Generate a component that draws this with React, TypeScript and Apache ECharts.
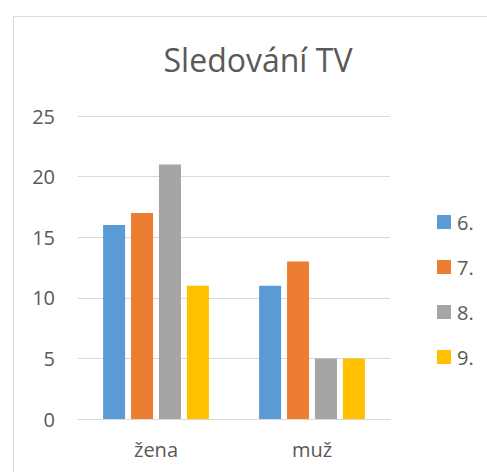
import React, { useEffect, useRef } from "react";
import * as echarts from "echarts";

const categories = ["žena", "muž"];
const seriesNames = ["6.", "7.", "8.", "9."];
const values6 = [16, 11];
const values7 = [17, 13];
const values8 = [21, 5];
const values9 = [11, 5];
const colors = ["#5b9bd5", "#ed7d31", "#a5a5a5", "#ffc000"];
const yTicks = [0, 5, 10, 15, 20, 25];

export default function App() {
  const ref = useRef<HTMLDivElement>(null);
  useEffect(() => {
    if (!ref.current) return;
    const chart = echarts.init(ref.current, null, { renderer: "svg" });
    const data = [values6, values7, values8, values9];
    const font = "'Open Sans', sans-serif";
    chart.setOption({
      animation: false,
      backgroundColor: "#ffffff",
      textStyle: { fontFamily: font },
      title: {
        text: "Sledování TV",
        left: 253,
        textAlign: "center",
        top: 38,
        textStyle: { fontFamily: font, fontSize: 32, fontWeight: "normal", color: "#595959" },
      },
      graphic: [
        {
          type: "rect",
          shape: { x: 13.5, y: 16.5, width: 600, height: 600 },
          style: { fill: "none", stroke: "#d9d9d9", lineWidth: 1 },
          silent: true,
        },
      ],
      legend: {
        orient: "vertical",
        left: 432,
        top: 207,
        itemWidth: 14,
        itemHeight: 14,
        itemGap: 25,
        icon: "rect",
        data: seriesNames,
        textStyle: { fontFamily: font, fontSize: 20, color: "#595959", padding: [0, 0, 0, 1] },
      },
      grid: { left: 78, right: 97, top: 116, bottom: 53 },
      xAxis: {
        type: "category",
        data: categories,
        axisLine: { lineStyle: { color: "#d9d9d9", width: 1 } },
        axisTick: { show: false },
        axisLabel: { fontFamily: font, fontSize: 20, color: "#595959", margin: 20 },
      },
      yAxis: {
        type: "value",
        min: yTicks[0],
        max: yTicks[yTicks.length - 1],
        interval: 5,
        axisLine: { show: false },
        axisTick: { show: false },
        splitLine: { lineStyle: { color: "#d9d9d9", width: 1 } },
        axisLabel: { fontFamily: font, fontSize: 20, color: "#595959", margin: 23 },
      },
      series: seriesNames.map((name, i) => ({
        name,
        type: "bar",
        data: data[i],
        barWidth: 22,
        barGap: "27%",
        itemStyle: { color: colors[i] },
      })),
    });
    return () => chart.dispose();
  }, []);
  return <div ref={ref} style={{ width: 487, height: 472, position: "absolute", left: 0, top: 0 }} />;
}
